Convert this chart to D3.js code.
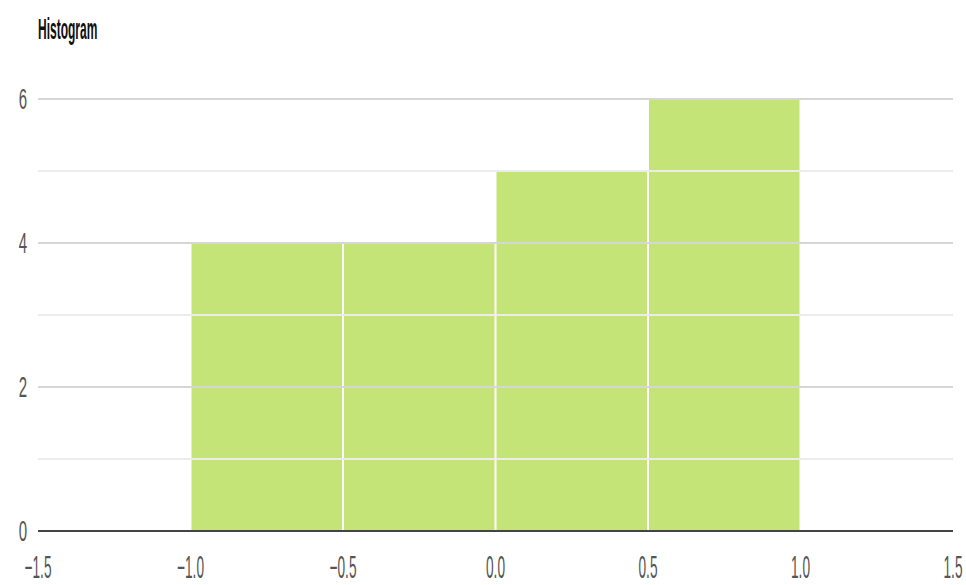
<!DOCTYPE html>
<html>
<head>
<meta charset="utf-8">
<script src="https://cdn.jsdelivr.net/npm/d3@7"></script>
<style>
  body { margin: 0; background: #fff; }
  text { font-family: "Liberation Sans", Arial, sans-serif; }
</style>
</head>
<body>
<div class="svg"></div>
<script>
var svgWidth = 966;
var svgHeight = 585;

// histogram bins
var binStart = [-1.0, -0.5, 0.0, 0.5];
var binEnd = [-0.5, 0.0, 0.5, 1.0];
var binCount = [4, 4, 5, 6];

var xTicks = [-1.5, -1.0, -0.5, 0.0, 0.5, 1.0, 1.5];
var yTicks = [0, 2, 4, 6];
var yMinor = [1, 3, 5];

var margin = { top: 99, right: 13, bottom: 54, left: 38 };
var width = svgWidth - margin.left - margin.right;
var height = svgHeight - margin.top - margin.bottom;

var svg = d3.select(".svg")
  .append("svg")
  .attr("width", svgWidth)
  .attr("height", svgHeight);

var x = d3.scaleLinear().domain([-1.5, 1.5]).range([0, width]);
var y = d3.scaleLinear().domain([0, 6]).range([height, 0]);

var g = svg.append("g")
  .attr("transform", `translate(${margin.left}, ${margin.top})`);

var bins = binCount.map(function(c, i) {
  return { x0: binStart[i], x1: binEnd[i], n: c };
});

// bars
g.selectAll("rect.bar")
  .data(bins)
  .enter()
  .append("rect")
  .attr("class", "bar")
  .attr("x", function(d) { return x(d.x0) + 1; })
  .attr("width", function(d) { return x(d.x1) - x(d.x0) - 2; })
  .attr("y", function(d) { return y(d.n); })
  .attr("height", function(d) { return y(0) - y(d.n); })
  .attr("fill", "#c5e478");

// gridlines on top
g.selectAll("line.minor")
  .data(yMinor)
  .enter()
  .append("line")
  .attr("x1", 0).attr("x2", width)
  .attr("y1", function(d) { return y(d); })
  .attr("y2", function(d) { return y(d); })
  .attr("stroke", "#ececec")
  .attr("stroke-width", 2);

g.selectAll("line.major")
  .data(yTicks.filter(function(d) { return d > 0; }))
  .enter()
  .append("line")
  .attr("x1", 0).attr("x2", width)
  .attr("y1", function(d) { return y(d); })
  .attr("y2", function(d) { return y(d); })
  .attr("stroke", "#d6d6d6")
  .attr("stroke-width", 2);

// baseline
g.append("line")
  .attr("x1", 0).attr("x2", width)
  .attr("y1", y(0)).attr("y2", y(0))
  .attr("stroke", "#444")
  .attr("stroke-width", 2);

// narrow text helper
function label(px, py, txt, size, anchor, sx, weight, fill) {
  svg.append("text")
    .attr("transform", `translate(${px}, ${py}) scale(${sx}, 1)`)
    .attr("text-anchor", anchor)
    .attr("font-size", size)
    .attr("font-weight", weight)
    .attr("fill", fill)
    .text(txt);
}

yTicks.forEach(function(d) {
  label(27, margin.top + y(d) + 10, d, 30, "end", 0.5, "normal", "#555");
});

xTicks.forEach(function(d) {
  label(margin.left + x(d), 578, d3.format(".1f")(d), 31, "middle", 0.44, "normal", "#555");
});

label(38, 39, "Histogram", 30, "start", 0.4, "bold", "#111");
</script>
</body>
</html>
